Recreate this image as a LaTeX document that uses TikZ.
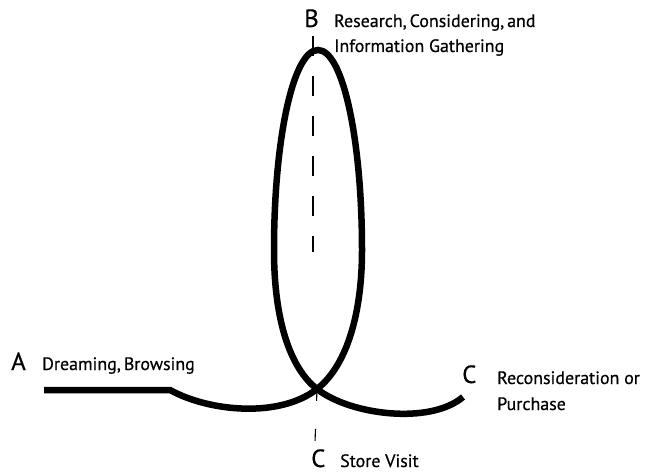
\documentclass[tikz,border=0pt]{standalone}
\usepackage{fontspec}
\setmainfont{PT Sans}
\newfontfamily\labelfont[FakeBold=0.5]{PT Sans}
\begin{document}
\begin{tikzpicture}[x=1bp,y=-1bp,
  path line/.style={line width=6.5bp},
  guide/.style={line width=1.1bp, dash pattern=on 20bp off 20bp},
  stage/.style={inner sep=0pt, anchor=base west, font=\labelfont\fontsize{25}{25}\selectfont},
  caption/.style={inner sep=0pt, anchor=base west, font=\labelfont\fontsize{18}{20}\selectfont}]
  \useasboundingbox (0,0) rectangle (647,476);

  % key points of the journey curve
  \coordinate (start) at (44,390);
  \coordinate (bend) at (170,390);
  \coordinate (cross) at (317,389);
  \coordinate (right) at (362,250);
  \coordinate (top) at (318,50);
  \coordinate (left) at (274,250);
  \coordinate (finish) at (463,397);

  % vertical guides through the loop
  \coordinate (guidetop) at (313,36);
  \coordinate (guidemid) at (313,252);
  \coordinate (guidelow) at (315,442);
  \draw[guide] (guidetop) -- (guidemid);
  \draw[line width=1.1bp, dash pattern=on 12bp off 28bp] (cross) -- (guidelow);

  % the journey: flat start, dip, loop up to B, back down and out to C
  \draw[path line] (start) -- (bend)
    .. controls (210,412) and (280,418) .. (cross)
    .. controls (344,368) and (362,320) .. (right)
    .. controls (362,140) and (343,50) .. (top)
    .. controls (293,50) and (274,140) .. (left)
    .. controls (274,320) and (290,368) .. (cross)
    .. controls (350,415) and (430,425) .. (finish);

  % labels
  \node[stage] (lA) at (11,370) {A};
  \node[caption] (tA) at (42,370) {Dreaming,\thinspace Browsing};
  \node[stage] (lB) at (304,27) {B};
  \node[caption] (tB1) at (334,27) {Research,\thinspace Considering,\thinspace and};
  \node[caption] (tB2) at (334,52) {Information Gathering};
  \node[stage] (lC1) at (311,467) {C};
  \node[caption] (tC1) at (340,467) {Store Visit};
  \node[stage] (lC2) at (462,383) {C};
  \node[caption] (tC2a) at (497,384) {Reconsideration or};
  \node[caption] (tC2b) at (497,410) {Purchase};
\end{tikzpicture}
\end{document}
